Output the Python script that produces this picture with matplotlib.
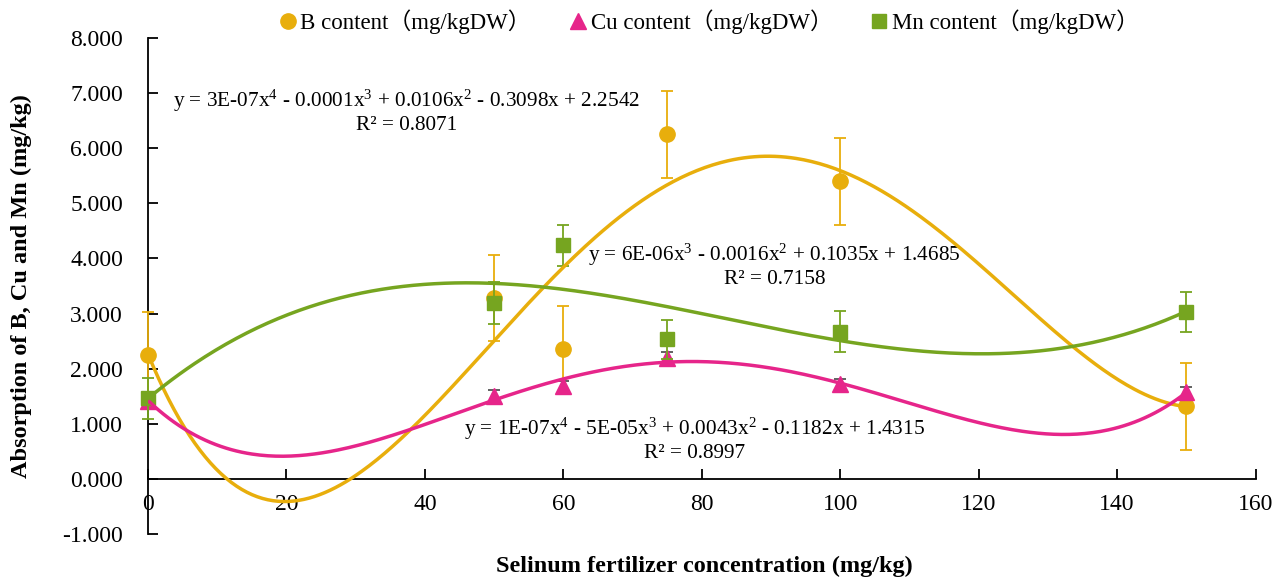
import numpy as np
import matplotlib.pyplot as plt
from matplotlib.lines import Line2D

plt.rcParams['font.family'] = ['Liberation Serif', 'Noto Sans CJK SC', 'DejaVu Serif']
plt.rcParams['mathtext.fontset'] = 'custom'
plt.rcParams['mathtext.rm'] = 'Liberation Serif'
plt.rcParams['mathtext.it'] = 'Liberation Serif'

# selenium dose (mg/kg)
conc = [0, 50, 60, 75, 100, 150]

b_val = [2.25, 3.28, 2.35, 6.25, 5.40, 1.32]
b_err = [0.78, 0.78, 0.78, 0.79, 0.79, 0.79]
cu_val = [1.42, 1.50, 1.68, 2.20, 1.72, 1.57]
cu_err = [0.10, 0.12, 0.10, 0.10, 0.10, 0.10]
mn_val = [1.46, 3.19, 4.24, 2.53, 2.67, 3.03]
mn_err = [0.37, 0.38, 0.37, 0.36, 0.37, 0.37]

names = ['B content（mg/kgDW）', 'Cu content（mg/kgDW）', 'Mn content（mg/kgDW）']

b_eq = 'y = 3E-07x$^{4}$ - 0.0001x$^{3}$ + 0.0106x$^{2}$ - 0.3098x + 2.2542\nR² = 0.8071'
mn_eq = 'y = 6E-06x$^{3}$ - 0.0016x$^{2}$ + 0.1035x + 1.4685\nR² = 0.7158'
cu_eq = 'y = 1E-07x$^{4}$ - 5E-05x$^{3}$ + 0.0043x$^{2}$ - 0.1182x + 1.4315\nR² = 0.8997'

c_b = '#E8AE0C'
c_cu = '#E6258A'
c_mn = '#76A520'

fig = plt.figure(figsize=(12.76, 5.79), dpi=100)
ax = fig.add_axes([0.116, 0.0777, 0.868, 0.8567])

x = np.array(conc, dtype=float)
xs = np.linspace(0, 150, 400)

# error bars + markers
eb_kw = dict(elinewidth=1.3, capsize=4.5, capthick=1.3)
for series in [
    ax.errorbar(conc, b_val, yerr=b_err, fmt='o', color=c_b, ms=11, ecolor=c_b, zorder=3, **eb_kw),
    ax.errorbar(conc, cu_val, yerr=cu_err, fmt='^', color=c_cu, ms=11, ecolor='#555555', zorder=3, **eb_kw),
    ax.errorbar(conc, mn_val, yerr=mn_err, fmt='s', color=c_mn, ms=10.5, ecolor=c_mn, zorder=4, **eb_kw),
]:
    for art in series.get_children():
        art.set_clip_on(False)

# polynomial trend lines
pb = np.polyfit(x, b_val, 4)
pcu = np.polyfit(x, cu_val, 4)
pmn = np.polyfit(x, mn_val, 3)
ax.plot(xs, np.polyval(pb, xs), color=c_b, lw=2.5, zorder=5)
ax.plot(xs, np.polyval(pcu, xs), color=c_cu, lw=2.5, zorder=5)
ax.plot(xs, np.polyval(pmn, xs), color=c_mn, lw=2.5, zorder=5)

ax.text(37.3, 6.66, b_eq, fontsize=15.3, ha='center', va='center', linespacing=1.15)
ax.text(90.5, 3.87, mn_eq, fontsize=15.3, ha='center', va='center', linespacing=1.15)
ax.text(79, 0.72, cu_eq, fontsize=15.3, ha='center', va='center', linespacing=1.15)

ax.set_xlim(0, 160)
ax.set_ylim(-1, 8)
ax.set_xticks(range(0, 161, 20))
ax.set_yticks(range(-1, 9))
ax.set_yticklabels(['%.3f' % v for v in range(-1, 9)])

ax.spines['top'].set_visible(False)
ax.spines['right'].set_visible(False)
ax.spines['bottom'].set_position(('data', 0))
for s in ('left', 'bottom'):
    ax.spines[s].set_linewidth(1.3)
ax.tick_params(axis='y', direction='in', length=7, width=1.3, labelsize=17, pad=18)
ax.tick_params(axis='x', direction='in', length=7, width=1.3, labelsize=17, pad=11)

ax.set_ylabel('Absorption of B, Cu and Mn (mg/kg)', fontsize=17.5, fontweight='bold')
ax.yaxis.set_label_coords(-0.105, 0.5)
fig.text(0.552, 0.021, 'Selinum fertilizer concentration (mg/kg)', fontsize=17.5,
         fontweight='bold', ha='center', va='center')

handles = [Line2D([], [], ls='none', marker='o', ms=11, color=c_b),
           Line2D([], [], ls='none', marker='^', ms=11, color=c_cu),
           Line2D([], [], ls='none', marker='s', ms=10.5, color=c_mn)]
fig.legend(handles, names, loc='center', bbox_to_anchor=(0.555, 0.962), ncol=3,
           frameon=False, fontsize=16.5, handletextpad=0.1, handlelength=0.9,
           columnspacing=1.6, borderaxespad=0)

fig.savefig('out.png', dpi=100)
